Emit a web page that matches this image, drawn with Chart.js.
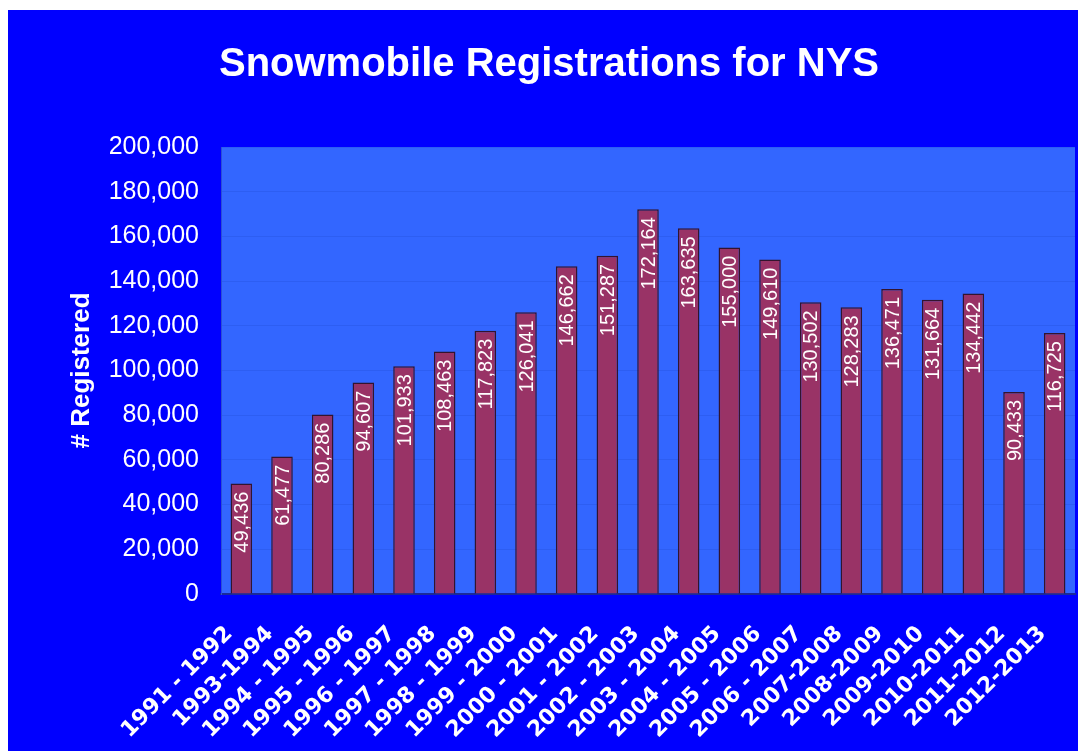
<!DOCTYPE html>
<html>
<head>
<meta charset="utf-8">
<script src="https://cdn.jsdelivr.net/npm/chart.js"></script>
<style>
  html, body { margin: 0; padding: 0; background: #ffffff; }
  #wrap { position: absolute; left: 8px; top: 10px; width: 1070px; height: 741px; background: #0000ff; }
</style>
</head>
<body>
<div id="wrap"><canvas id="chart" width="1070" height="741"></canvas></div>
<script>
const seasons = ['1991 - 1992', '1993-1994', '1994 - 1995', '1995 - 1996', '1996 - 1997',
  '1997 - 1998', '1998 - 1999', '1999 - 2000', '2000 - 2001', '2001 - 2002', '2002 - 2003',
  '2003 - 2004', '2004 - 2005', '2005 - 2006', '2006 - 2007', '2007-2008', '2008-2009',
  '2009-2010', '2010-2011', '2011-2012', '2012-2013'];
const registered = [49436, 61477, 80286, 94607, 101933, 108463, 117823, 126041, 146662, 151287,
  172164, 163635, 155000, 149610, 130502, 128283, 136471, 131664, 134442, 90433, 116725];
const yMin = 0;
const yMax = 200000;
const yStep = 20000;

// light blue plot area behind the bars
const plotBackground = {
  id: 'plotBackground',
  beforeDraw(chart) {
    const {ctx, chartArea: a} = chart;
    ctx.save();
    ctx.fillStyle = '#3366ff';
    ctx.fillRect(a.left, a.top, a.right - a.left, a.bottom - a.top);
    ctx.restore();
  }
};

// value written upward inside each bar, near its top
const barValues = {
  id: 'barValues',
  afterDatasetsDraw(chart) {
    const ctx = chart.ctx;
    const meta = chart.getDatasetMeta(0);
    ctx.save();
    ctx.fillStyle = '#ffffff';
    ctx.font = '20px "Liberation Sans", Arial, sans-serif';
    ctx.textAlign = 'right';
    ctx.textBaseline = 'middle';
    meta.data.forEach((bar, i) => {
      ctx.save();
      ctx.translate(bar.x, bar.y + 8);
      ctx.rotate(-Math.PI / 2);
      ctx.fillText(registered[i].toLocaleString('en-US'), 0, 1);
      ctx.restore();
    });
    ctx.restore();
  }
};

new Chart(document.getElementById('chart'), {
  type: 'bar',
  data: {
    labels: seasons,
    datasets: [{
      data: registered,
      backgroundColor: '#993366',
      borderColor: '#33142e',
      borderWidth: 1.5,
      barPercentage: 0.53,
      categoryPercentage: 1
    }]
  },
  options: {
    responsive: false,
    animation: false,
    layout: { padding: { left: 15, right: 3, top: 0, bottom: 0 } },
    plugins: {
      legend: { display: false },
      tooltip: { enabled: false },
      title: {
        display: true,
        text: 'Snowmobile Registrations for NYS',
        color: '#ffffff',
        font: { family: '"Liberation Sans", Arial, sans-serif', size: 40, weight: 'bold' },
        padding: { top: 31, bottom: 58 }
      }
    },
    scales: {
      x: {
        afterFit(scale) {
          scale.height = 157;
          scale.paddingLeft = 0;
          scale.paddingRight = 0;
        },
        grid: { display: false, drawTicks: false },
        border: { color: '#1a2a99', width: 2 },
        ticks: {
          color: '#ffffff',
          autoSkip: false,
          minRotation: 45,
          maxRotation: 45,
          padding: 27,
          labelOffset: -12,
          font: { family: '"DejaVu Sans", sans-serif', size: 22, weight: 'bold' }
        }
      },
      y: {
        min: yMin,
        max: yMax,
        afterFit(scale) { scale.width = 198; },
        grid: { color: '#2d5ef2', drawTicks: false },
        border: { color: '#2a4fd6', width: 1 },
        ticks: {
          stepSize: yStep,
          color: '#ffffff',
          padding: 22,
          font: { family: '"Liberation Sans", Arial, sans-serif', size: 25 },
          callback: v => v.toLocaleString('en-US')
        },
        title: {
          display: true,
          text: '# Registered',
          color: '#ffffff',
          font: { family: '"Liberation Sans", Arial, sans-serif', size: 26, weight: 'bold' },
          padding: { top: 43, bottom: 0 }
        }
      }
    }
  },
  plugins: [plotBackground, barValues]
});
</script>
</body>
</html>
